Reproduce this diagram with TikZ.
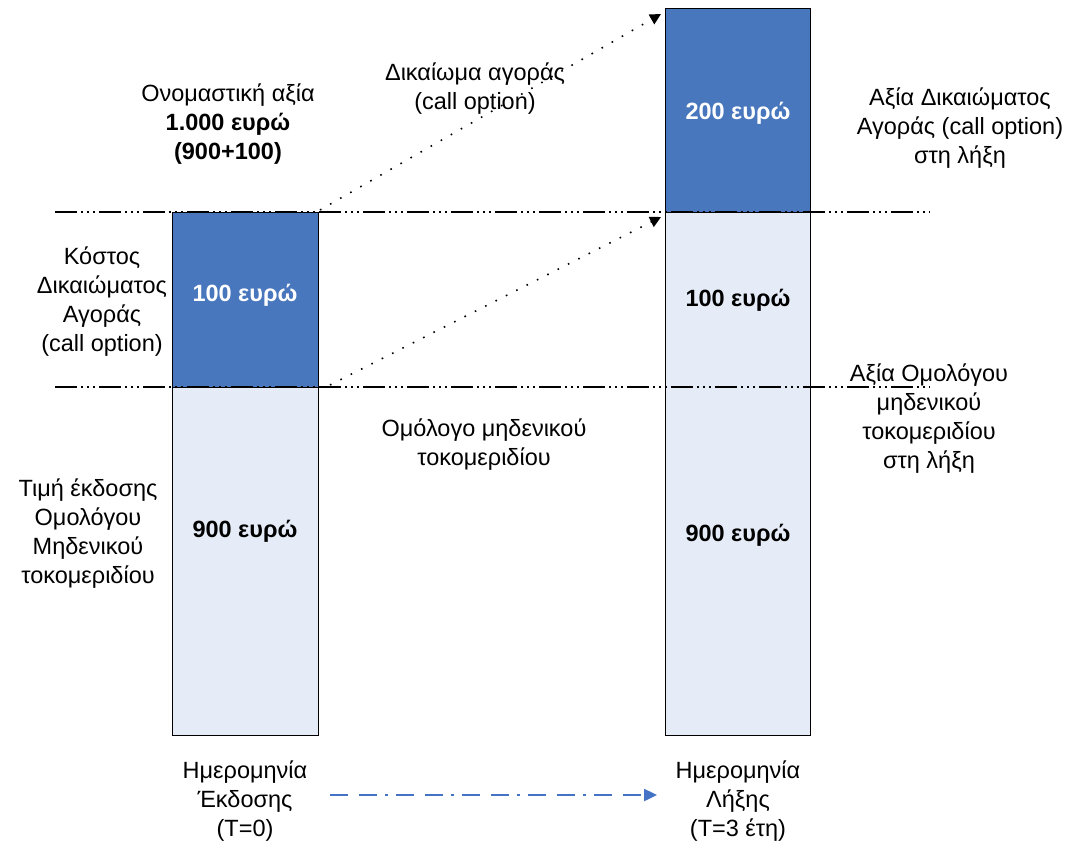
\documentclass[tikz,border=0pt]{standalone}
\usepackage{fontspec}
\setmainfont{Liberation Sans}
\usetikzlibrary{arrows.meta}
\definecolor{darkbar}{HTML}{4877BE}
\definecolor{lightbar}{HTML}{E6ECF7}
\definecolor{timeline}{HTML}{4472C4}
\begin{document}
\begin{tikzpicture}[x=1pt,y=-1pt]
      \tikzstyle{every node}+=[inner sep=0pt, align=center, font=\fontsize{23.5}{29}\selectfont]
      \tikzstyle{bar}=[draw=black, line width=0.8pt]
      \tikzstyle{level}=[line width=2.4pt, dash pattern=on 22pt off 4pt on 2pt off 4pt on 2pt off 4pt on 2pt off 4pt]
      \tikzstyle{flow}=[line width=1.6pt, dash pattern=on 1.6pt off 10pt, -{Triangle[length=11pt,width=11pt]}]
      \tikzstyle{amount}=[font=\fontsize{23.5}{29}\selectfont\bfseries]
      \useasboundingbox (0,0) rectangle (1066,843);
      % bars
      \draw [bar, fill=lightbar] (172,387) rectangle (318,735);
      \draw [bar, fill=darkbar] (172,212) rectangle (318,387);
      \draw [bar, fill=lightbar] (665,212) rectangle (810,735);
      \draw [bar, fill=darkbar] (665,8) rectangle (810,212);
      % levels
      \coordinate (topL) at (55,212);
      \coordinate (topR) at (930,212);
      \coordinate (lowL) at (55,387);
      \coordinate (lowR) at (930,387);
      \draw [level] (topL) -- (topR);
      \draw [level] (lowL) -- (lowR);
      % arrows between dates
      \coordinate (optS) at (320,210);
      \coordinate (optE) at (661,14);
      \coordinate (bondS) at (330,385);
      \coordinate (bondE) at (661,217);
      \draw [flow] (optS) -- (optE);
      \draw [flow] (bondS) -- (bondE);
      % amounts
      \node [amount, text=white] (costL) at (245,295) {100 ευρώ};
      \node [amount, text=white] (valR) at (738,113) {200 ευρώ};
      \node [amount] (costR) at (738,300) {100 ευρώ};
      \node [amount] (bondL) at (245,531) {900 ευρώ};
      \node [amount] (bondR) at (738,535) {900 ευρώ};
      % labels
      \node (nominal) at (228,124) {Ονομαστική αξία\\\bfseries 1.000 ευρώ\\\bfseries (900+100)};
      \node (calllbl) at (475,89) {Δικαίωμα αγοράς\\(call option)};
      \node (callend) at (960,128) {Αξία Δικαιώματος\\Αγοράς (call option)\\στη λήξη};
      \node (callcost) at (102,302) {Κόστος\\Δικαιώματος\\Αγοράς\\(call option)};
      \node (bondend) at (929,419) {Αξία Ομολόγου\\μηδενικού\\τοκομεριδίου\\στη λήξη};
      \node (bondlbl) at (484,445) {Ομόλογο μηδενικού\\τοκομεριδίου};
      \node (issue) at (88,534) {Τιμή έκδοσης\\Ομολόγου\\Μηδενικού\\τοκομεριδίου};
      \node (dateL) at (245,801) {Ημερομηνία\\Έκδοσης\\(T=0)};
      \node (dateR) at (738,801) {Ημερομηνία\\Λήξης\\(T=3 έτη)};
      % time axis
      \coordinate (timeS) at (330,795);
      \coordinate (timeE) at (657,795);
      \draw [timeline, line width=2.4pt, dash pattern=on 18pt off 11pt on 18pt off 8pt on 3pt off 8pt, -{Triangle[length=13pt,width=12pt]}] (timeS) -- (timeE);
    \end{tikzpicture}
\end{document}
